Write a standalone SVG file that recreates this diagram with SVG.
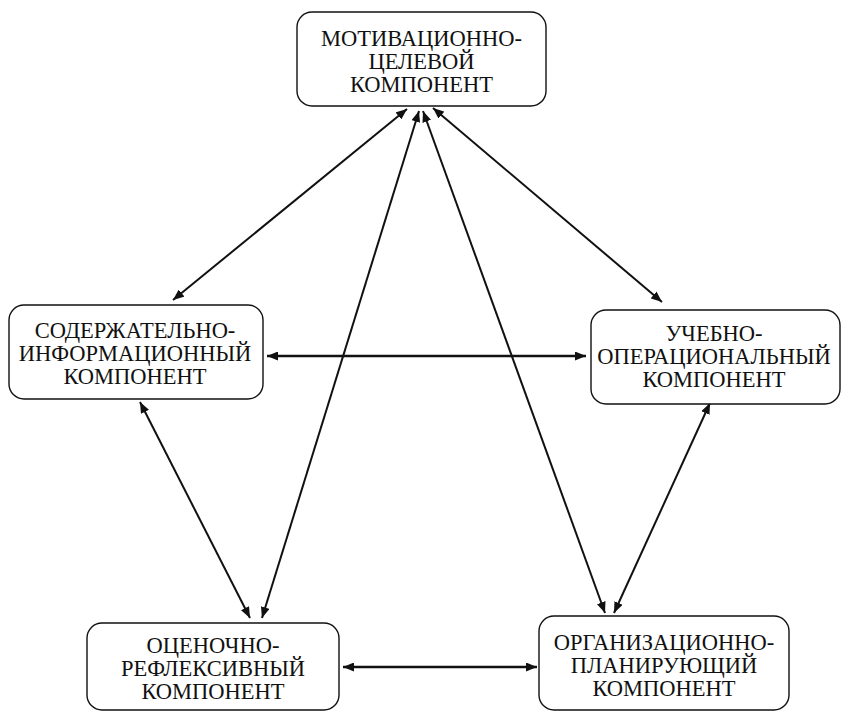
<svg xmlns="http://www.w3.org/2000/svg" width="842" height="713" viewBox="0 0 842 713">
<defs>
<marker id="ah" viewBox="0 0 11 9" refX="11" refY="4.5" markerWidth="11" markerHeight="9" markerUnits="userSpaceOnUse" orient="auto-start-reverse">
<path d="M0,0 L11,4.5 L0,9 Z" fill="#111"/>
</marker>
<style>
.box{fill:#fff;stroke:#111;stroke-width:1.4}
.t{font-family:"Liberation Serif","DejaVu Serif","Times New Roman",serif;font-size:22.5px;fill:#111;text-anchor:middle}
.c{stroke:#111;stroke-width:2;fill:none;marker-start:url(#ah);marker-end:url(#ah)}
.h{stroke-width:2.6}
</style>
</defs>
<rect width="842" height="713" fill="#fff"/>
<g id="connectors">
<line class="c" x1="407" y1="109" x2="173" y2="300"/>
<line class="c" x1="433" y1="108" x2="662" y2="302"/>
<line class="c" x1="419" y1="111" x2="262" y2="618"/>
<line class="c" x1="423" y1="111" x2="605" y2="613"/>
<line class="c" x1="140" y1="402" x2="250" y2="618"/>
<line class="c" x1="710" y1="403" x2="614" y2="613"/>
<line class="c h" x1="267" y1="356" x2="586" y2="356"/>
<line class="c h" x1="343" y1="667" x2="537" y2="667"/>
</g>
<g id="motiv">
<rect class="box" x="297" y="12" width="249" height="94" rx="15"/>
<text class="t" x="421.5" y="46">МОТИВАЦИОННО-</text>
<text class="t" x="421.5" y="69">ЦЕЛЕВОЙ</text>
<text class="t" x="421.5" y="92">КОМПОНЕНТ</text>
</g>
<g id="soderzh">
<rect class="box" x="9" y="305" width="254" height="94" rx="15"/>
<text class="t" x="135" y="338">СОДЕРЖАТЕЛЬНО-</text>
<text class="t" x="135" y="361">ИНФОРМАЦИОННЫЙ</text>
<text class="t" x="135" y="384">КОМПОНЕНТ</text>
</g>
<g id="ucheb">
<rect class="box" x="591" y="310" width="249" height="94" rx="15"/>
<text class="t" x="714" y="341">УЧЕБНО-</text>
<text class="t" x="714" y="364">ОПЕРАЦИОНАЛЬНЫЙ</text>
<text class="t" x="714" y="387">КОМПОНЕНТ</text>
</g>
<g id="ocen">
<rect class="box" x="87" y="623" width="252" height="87" rx="15"/>
<text class="t" x="213" y="653">ОЦЕНОЧНО-</text>
<text class="t" x="213" y="676">РЕФЛЕКСИВНЫЙ</text>
<text class="t" x="213" y="699">КОМПОНЕНТ</text>
</g>
<g id="organiz">
<rect class="box" x="539" y="616" width="250" height="94" rx="15"/>
<text class="t" x="664" y="650">ОРГАНИЗАЦИОННО-</text>
<text class="t" x="664" y="673">ПЛАНИРУЮЩИЙ</text>
<text class="t" x="664" y="696">КОМПОНЕНТ</text>
</g>
</svg>
